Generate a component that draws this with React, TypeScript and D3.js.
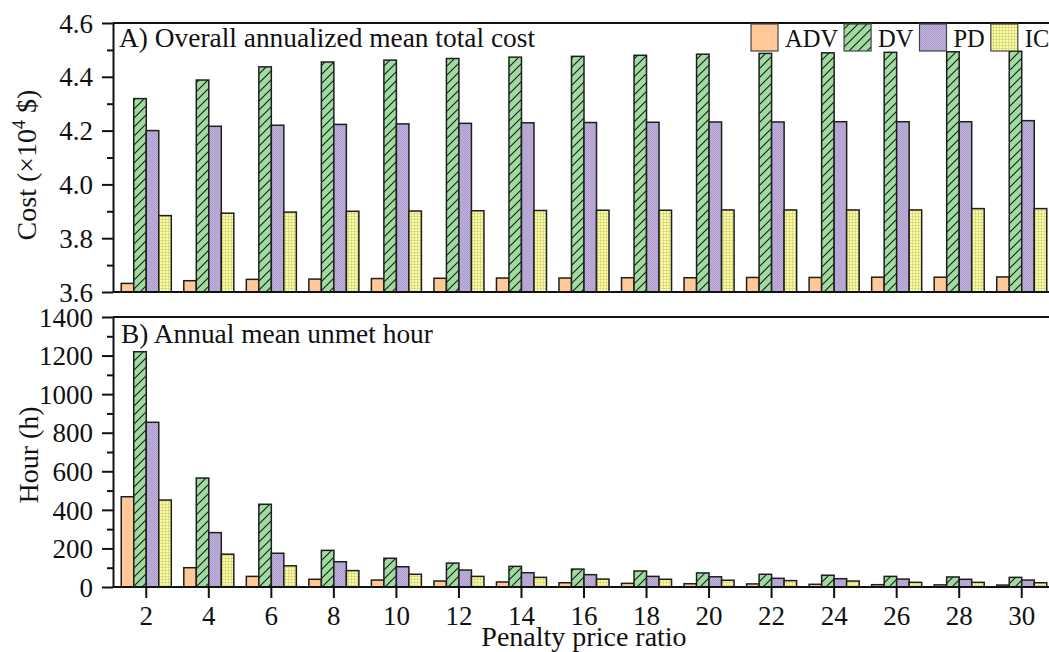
import { useEffect, useRef } from 'react';
import * as d3 from 'd3';

const penaltyRatios = ['2', '4', '6', '8', '10', '12', '14', '16', '18', '20', '22', '24', '26', '28', '30'];
const seriesNames = ['ADV', 'DV', 'PD', 'IC'];

// A) overall annualized mean total cost (x10^4 $)
const costAdv = [3.632, 3.642, 3.647, 3.648, 3.65, 3.651, 3.652, 3.652, 3.653, 3.653, 3.654, 3.654, 3.655, 3.655, 3.656];
const costDv = [4.319, 4.388, 4.437, 4.455, 4.462, 4.468, 4.473, 4.476, 4.48, 4.484, 4.487, 4.489, 4.491, 4.493, 4.495];
const costPd = [4.2, 4.216, 4.22, 4.223, 4.225, 4.227, 4.229, 4.23, 4.231, 4.232, 4.232, 4.233, 4.233, 4.233, 4.237];
const costIc = [3.884, 3.893, 3.897, 3.9, 3.901, 3.902, 3.903, 3.904, 3.904, 3.905, 3.905, 3.905, 3.905, 3.91, 3.91];

// B) annual mean unmet hour (h)
const hourAdv = [468, 100, 55, 40, 36, 31, 26, 22, 19, 17, 16, 14, 12, 11, 10];
const hourDv = [1220, 565, 429, 190, 149, 124, 107, 93, 83, 73, 66, 61, 55, 52, 50];
const hourPd = [854, 282, 175, 131, 105, 88, 74, 64, 55, 53, 45, 43, 41, 40, 36];
const hourIc = [451, 170, 110, 85, 66, 55, 50, 41, 40, 35, 33, 31, 24, 24, 22];

const costTicks = [3.6, 3.8, 4.0, 4.2, 4.4, 4.6];
const costMinorTicks = [3.7, 3.9, 4.1, 4.3, 4.5];
const hourTicks = [0, 200, 400, 600, 800, 1000, 1200, 1400];
const hourMinorTicks = [100, 300, 500, 700, 900, 1100, 1300];

const fontFamily = 'Liberation Serif, DejaVu Serif, serif';
const fills = ['#FFC896', 'url(#hatch-dv)', 'url(#dots-pd)', 'url(#grid-ic)'];

type Svg = d3.Selection<SVGSVGElement, unknown, null, undefined>;

export default function App() {
  const ref = useRef<HTMLDivElement>(null);

  const createPatterns = (svg: Svg) => {
    const defs = svg.append('defs');

    const dv = defs
      .append('pattern')
      .attr('id', 'hatch-dv')
      .attr('patternUnits', 'userSpaceOnUse')
      .attr('width', 9)
      .attr('height', 9);
    dv.append('rect').attr('width', 9).attr('height', 9).attr('fill', '#A0DBA0');
    dv.append('path')
      .attr('d', 'M0,9 L9,0 M-2,2 L2,-2 M7,11 L11,7')
      .attr('stroke', '#1a1a1a')
      .attr('stroke-width', 1.1);

    const pd = defs
      .append('pattern')
      .attr('id', 'dots-pd')
      .attr('patternUnits', 'userSpaceOnUse')
      .attr('width', 2)
      .attr('height', 2);
    pd.append('rect').attr('width', 2).attr('height', 2).attr('fill', '#C0B0DC');
    pd.append('rect').attr('width', 1).attr('height', 1).attr('fill', '#AE9ECE');
    pd.append('rect').attr('x', 1).attr('y', 1).attr('width', 1).attr('height', 1).attr('fill', '#AE9ECE');

    const ic = defs
      .append('pattern')
      .attr('id', 'grid-ic')
      .attr('patternUnits', 'userSpaceOnUse')
      .attr('width', 3)
      .attr('height', 3);
    ic.append('rect').attr('width', 3).attr('height', 3).attr('fill', '#FBFBA8');
    ic.append('path')
      .attr('d', 'M0,0.5 H3 M0.5,0 V3')
      .attr('stroke', '#D6D67A')
      .attr('stroke-width', 0.8);
  };

  const drawBars = (
    svg: Svg,
    seriesList: number[][],
    xScale: d3.ScaleBand<string>,
    innerScale: d3.ScaleBand<string>,
    yScale: d3.ScaleLinear<number, number>
  ) => {
    const base = yScale.range()[0];
    seriesList.forEach((values, si) => {
      svg
        .append('g')
        .selectAll('rect')
        .data(values)
        .enter()
        .append('rect')
        .attr('x', (_, i) => xScale(penaltyRatios[i])! + innerScale(seriesNames[si])!)
        .attr('y', (d) => yScale(d))
        .attr('width', innerScale.bandwidth())
        .attr('height', (d) => base - yScale(d))
        .attr('fill', fills[si])
        .attr('stroke', '#1e1e1e')
        .attr('stroke-width', 1.5);
    });
  };

  const drawLeftAxis = (
    svg: Svg,
    yScale: d3.ScaleLinear<number, number>,
    ticks: number[],
    minorTicks: number[],
    format: (v: number) => string,
    x0: number
  ) => {
    svg
      .append('g')
      .attr('transform', `translate(${x0},0)`)
      .call(d3.axisLeft(yScale).tickValues(minorTicks).tickSize(6).tickSizeOuter(0).tickFormat(() => ''))
      .call((g) => {
        g.select('.domain').remove();
        g.selectAll('.tick line').attr('stroke', '#111').attr('stroke-width', 2);
      });

    svg
      .append('g')
      .attr('transform', `translate(${x0},0)`)
      .call(d3.axisLeft(yScale).tickValues(ticks).tickSize(11).tickSizeOuter(0).tickPadding(9).tickFormat(format as any))
      .call((g) => {
        g.attr('font-family', fontFamily).attr('font-size', 27);
        g.select('.domain').attr('stroke', '#111').attr('stroke-width', 2);
        g.selectAll('.tick line').attr('stroke', '#111').attr('stroke-width', 2);
        g.selectAll('.tick text').attr('fill', '#111').attr('dy', '0.34em');
      });
  };

  const drawHLine = (svg: Svg, y: number, x1: number, x2: number) => {
    svg
      .append('line')
      .attr('x1', x1)
      .attr('x2', x2)
      .attr('y1', y)
      .attr('y2', y)
      .attr('stroke', '#111')
      .attr('stroke-width', 2);
  };

  const drawChart = () => {
    d3.select(ref.current).select('svg').remove();

    const width = 1049;
    const height = 652;
    const left = 113;

    const svg = d3
      .select(ref.current)
      .append('svg')
      .attr('width', width)
      .attr('height', height)
      .attr('font-family', fontFamily)
      .style('position', 'absolute')
      .style('left', '0px')
      .style('top', '0px')
      .style('background', '#fff') as unknown as Svg;

    createPatterns(svg);

    const xScale = d3.scaleBand().domain(penaltyRatios).range([115, 1053]).paddingInner(0.2).paddingOuter(0.1);
    const innerScale = d3.scaleBand().domain(seriesNames).range([0, xScale.bandwidth()]);

    const costScale = d3.scaleLinear().domain([3.6, 4.6]).range([292, 23]);
    const hourScale = d3.scaleLinear().domain([0, 1400]).range([587, 317]);

    drawBars(svg, [costAdv, costDv, costPd, costIc], xScale, innerScale, costScale);
    drawBars(svg, [hourAdv, hourDv, hourPd, hourIc], xScale, innerScale, hourScale);

    // frames
    drawHLine(svg, 23, left, width);
    drawHLine(svg, 292, left, width);
    drawHLine(svg, 317, left, width);
    drawHLine(svg, 587, left, width);

    drawLeftAxis(svg, costScale, costTicks, costMinorTicks, d3.format('.1f'), left);
    drawLeftAxis(svg, hourScale, hourTicks, hourMinorTicks, d3.format('d'), left);

    // bottom x axis
    svg
      .append('g')
      .attr('transform', 'translate(0,587)')
      .call(d3.axisBottom(xScale).tickSize(11).tickSizeOuter(0).tickPadding(8))
      .call((g) => {
        g.attr('font-family', fontFamily).attr('font-size', 27);
        g.select('.domain').remove();
        g.selectAll('.tick line').attr('stroke', '#111').attr('stroke-width', 2);
        g.selectAll('.tick text').attr('fill', '#111');
      });

    // axis titles
    svg
      .append('text')
      .attr('x', 584)
      .attr('y', 646)
      .attr('text-anchor', 'middle')
      .attr('font-size', 28)
      .attr('fill', '#111')
      .text('Penalty price ratio');

    const costTitle = svg
      .append('text')
      .attr('transform', `translate(36,165) rotate(-90)`)
      .attr('text-anchor', 'middle')
      .attr('font-size', 28)
      .attr('fill', '#111');
    costTitle.append('tspan').text('Cost (×10');
    costTitle.append('tspan').attr('font-size', 18).attr('dy', -11).text('4');
    costTitle.append('tspan').attr('dy', 11).text(' $)');

    svg
      .append('text')
      .attr('transform', `translate(38,455) rotate(-90)`)
      .attr('text-anchor', 'middle')
      .attr('font-size', 28)
      .attr('fill', '#111')
      .text('Hour (h)');

    // panel titles
    svg
      .append('text')
      .attr('x', 119)
      .attr('y', 47)
      .attr('font-size', 27.4)
      .attr('fill', '#111')
      .text('A) Overall annualized mean total cost');
    svg
      .append('text')
      .attr('x', 121)
      .attr('y', 343)
      .attr('font-size', 27.4)
      .attr('fill', '#111')
      .text('B) Annual mean unmet hour');

    // legend
    const legend = svg.append('g');
    let cursor = 751;
    seriesNames.forEach((name, si) => {
      legend
        .append('rect')
        .attr('x', cursor)
        .attr('y', 24)
        .attr('width', 27)
        .attr('height', 27)
        .attr('fill', fills[si])
        .attr('stroke', '#444')
        .attr('stroke-width', 1.2);
      const label = legend
        .append('text')
        .attr('x', cursor + 34)
        .attr('y', 47)
        .attr('font-size', 24.5)
        .attr('fill', '#111')
        .text(name);
      const textWidth = (label.node() as SVGTextElement).getComputedTextLength();
      cursor += 34 + textWidth + 6;
    });
  };

  useEffect(() => {
    drawChart();
  }, []);

  return <div ref={ref} style={{ width: 1049, height: 652 }} />;
}
